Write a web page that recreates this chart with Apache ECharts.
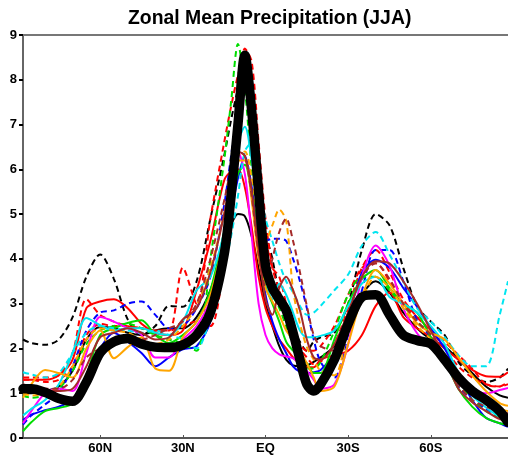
<!DOCTYPE html>
<html>
<head>
<meta charset="utf-8">
<script src="https://cdn.jsdelivr.net/npm/echarts@6/dist/echarts.min.js"></script>
<style>
  html, body { margin: 0; padding: 0; background: #fff; }
  #chart { width: 508px; height: 463px; }
</style>
</head>
<body>
<div id="chart"></div>
<script>
// latitude in degrees, south positive (88N .. 88S)
const lats = [-88, -85, -80, -75, -70, -65, -60, -55, -50, -45, -40, -35, -30, -25, -20, -15,
  -12.5, -10, -7.5, -5, -2.5, 0, 2.5, 5, 7.5, 10, 12.5, 15, 17.5,
  20, 25, 30, 35, 40, 45, 50, 55, 60, 65, 70, 75, 80, 85, 88];

const tickLats = [-60, -30, 0, 30, 60];
const tickNames = ['60N', '30N', 'EQ', '30S', '60S'];

// observations (thick black)
const obs = [1.1, 1.1, 1.02, 0.88, 0.82, 1.25, 1.9, 2.15, 2.22, 2.1, 2.03, 2.02, 2.08, 2.3, 2.8, 4.1,
  5.4, 7.0, 8.55, 7.3, 5.5, 3.85, 3.35, 3.1, 2.85, 2.35, 1.75, 1.2, 1.05,
  1.2, 1.75, 2.55, 3.15, 3.2, 2.75, 2.3, 2.18, 2.1, 1.75, 1.35, 1.05, 0.85, 0.6, 0.35];

const blackSolid = [1.0, 1.0, 1.05, 1.15, 1.5, 2.2, 2.48, 2.45, 2.35, 2.3, 2.4, 2.45, 2.45, 2.7, 3.3, 4.3,
  4.75, 5.0, 4.95, 4.5, 3.8, 3.0, 2.5, 2.05, 1.75, 1.62, 1.6, 1.62, 1.7,
  1.8, 2.05, 2.55, 3.2, 3.5, 3.25, 2.8, 2.45, 2.2, 2.05, 1.75, 1.45, 1.15, 0.95, 0.9];
const blackDash = [2.2, 2.12, 2.08, 2.2, 2.7, 3.6, 4.1, 3.55, 2.65, 2.3, 2.5, 2.95, 2.93, 3.5, 4.9, 6.3,
  7.1, 7.8, 8.4, 7.6, 5.8, 4.6, 4.0, 3.2, 2.7, 2.45, 2.15, 1.95, 2.15,
  2.25, 2.35, 3.0, 4.2, 5.0, 4.75, 3.8, 2.95, 2.6, 2.3, 1.7, 1.4, 1.25, 1.35, 1.55];
const redSolid = [1.3, 1.3, 1.3, 1.4, 1.75, 2.9, 3.05, 3.1, 2.9, 2.55, 2.35, 2.3, 2.4, 3.3, 4.4, 5.75,
  5.95, 6.0, 5.6, 4.7, 3.6, 2.9, 2.5, 2.2, 2.0, 1.8, 1.65, 1.58, 1.58,
  1.75, 1.85, 1.95, 2.3, 2.95, 3.25, 2.7, 2.45, 2.25, 2.0, 1.75, 1.52, 1.38, 1.37, 1.47];
const redDashA = [1.35, 1.35, 1.35, 1.4, 1.9, 3.1, 2.75, 2.6, 2.5, 2.45, 2.4, 2.4, 3.8, 3.0, 4.9, 6.6,
  7.4, 8.1, 8.6, 7.6, 5.9, 4.5, 3.8, 3.6, 3.0, 2.4, 2.0, 1.8, 1.65,
  1.7, 2.1, 2.9, 3.8, 4.2, 3.7, 3.1, 2.7, 2.4, 2.15, 1.85, 1.55, 1.2, 1.15, 1.25];
const redDashB = [1.3, 1.3, 1.25, 1.3, 1.6, 2.3, 2.55, 2.5, 2.5, 2.45, 2.4, 2.4, 2.5, 2.6, 2.5, 4.0,
  5.8, 7.4, 8.7, 8.4, 6.6, 4.9, 3.8, 3.3, 2.8, 2.4, 2.1, 1.95, 1.95,
  2.05, 2.5, 3.2, 3.8, 3.9, 3.5, 3.0, 2.7, 2.4, 2.0, 1.6, 1.35, 1.2, 1.15, 1.2];
const blueSolid = [0.4, 0.52, 0.62, 0.7, 0.85, 1.4, 2.0, 2.35, 2.15, 1.9, 1.6, 1.8, 1.98, 2.05, 2.6, 4.2,
  5.0, 5.8, 6.3, 5.6, 4.3, 3.2, 2.6, 2.2, 1.9, 1.6, 1.48, 1.45, 1.47,
  1.52, 1.9, 2.7, 3.7, 3.98, 3.8, 3.35, 2.93, 2.45, 2.0, 1.4, 0.85, 0.45, 0.33, 0.25];
const blueDash = [0.3, 0.5, 0.75, 1.0, 1.6, 2.4, 2.8, 2.85, 3.0, 3.05, 2.75, 2.45, 2.5, 2.9, 3.6, 5.2,
  6.3, 7.4, 8.5, 8.0, 6.0, 4.4, 4.45, 4.45, 4.4, 4.0, 3.5, 2.9, 2.2,
  1.7, 1.35, 2.3, 3.3, 4.2, 4.2, 3.5, 2.63, 2.25, 1.7, 1.15, 0.85, 0.65, 0.5, 0.45];
const greenSolid = [0.15, 0.35, 0.6, 0.67, 0.78, 1.4, 2.3, 2.45, 2.57, 2.63, 2.3, 2.12, 2.3, 2.6, 3.3, 4.6,
  5.3, 5.9, 6.1, 5.4, 4.2, 3.4, 3.0, 2.6, 2.15, 1.95, 1.8, 1.67, 1.45,
  1.45, 2.2, 3.0, 3.55, 3.75, 3.35, 3.0, 2.8, 2.25, 1.75, 1.1, 0.7, 0.45, 0.33, 0.3];
const greenDash = [0.95, 0.9, 0.95, 1.1, 1.5, 2.1, 2.4, 2.5, 2.55, 2.45, 2.3, 2.2, 2.1, 1.95, 4.0, 6.2,
  7.5, 8.8, 7.8, 6.0, 4.6, 3.6, 3.2, 2.9, 2.5, 2.1, 1.8, 1.55, 1.55,
  1.7, 2.4, 3.2, 3.6, 3.6, 3.3, 2.95, 2.6, 2.3, 1.8, 1.3, 0.85, 0.6, 0.45, 0.4];
const magenta = [0.33, 0.6, 1.0, 1.1, 1.05, 1.9, 2.7, 2.6, 2.45, 2.3, 1.8, 1.8, 2.2, 2.5, 3.1, 4.4,
  5.6, 6.4, 5.9, 4.5, 3.0, 2.3, 2.0, 1.87, 1.82, 1.78, 1.67, 1.5, 1.3,
  1.1, 1.2, 2.1, 3.6, 4.3, 3.85, 2.9, 2.34, 2.05, 1.75, 1.35, 1.1, 1.0, 1.07, 1.12];
const cyanSolid = [0.5, 0.65, 0.85, 1.2, 1.9, 2.68, 2.52, 2.4, 2.45, 2.45, 2.35, 2.3, 2.6, 3.3, 3.6, 4.6,
  5.6, 6.6, 6.95, 6.2, 5.0, 3.6, 3.1, 3.45, 3.2, 2.8, 2.4, 2.25, 2.25,
  2.28, 2.4, 2.95, 3.45, 3.6, 3.15, 3.0, 2.8, 2.5, 2.1, 1.45, 0.95, 0.68, 0.47, 0.4];
const cyanDash = [1.47, 1.42, 1.35, 1.45, 1.9, 2.35, 2.5, 2.45, 2.4, 2.35, 2.4, 2.3, 2.2, 2.0, 2.7, 3.8,
  4.5, 5.4, 6.4, 6.6, 5.7, 4.9, 4.4, 3.9, 3.5, 3.25, 2.95, 2.75, 2.8,
  2.95, 3.3, 3.65, 4.3, 4.6, 4.1, 3.5, 2.9, 2.6, 2.25, 1.85, 1.6, 1.6, 2.75, 3.5];
const orangeSolid = [0.9, 1.2, 1.52, 1.45, 1.35, 2.0, 2.4, 1.78, 2.03, 2.25, 1.55, 1.5, 2.25, 2.6, 3.2, 4.5,
  5.5, 6.2, 6.2, 5.3, 4.0, 3.35, 3.05, 2.75, 2.4, 2.2, 1.95, 1.67, 1.35,
  1.05, 1.15, 2.1, 3.15, 3.75, 3.45, 3.0, 2.56, 2.35, 2.2, 1.8, 1.4, 1.05, 0.78, 0.72];
const orangeDash = [1.0, 0.95, 1.0, 1.15, 1.6, 2.2, 2.45, 2.4, 2.35, 2.2, 2.1, 2.2, 2.5, 2.95, 3.8, 5.0,
  5.8, 6.3, 6.4, 5.8, 4.9, 4.4, 4.75, 5.1, 4.85, 3.3, 2.56, 2.03, 1.75,
  1.5, 1.4, 2.4, 3.1, 3.6, 3.35, 2.9, 2.5, 2.2, 1.75, 1.3, 1.0, 0.8, 0.65, 0.6];
const brownSolid = [1.05, 1.05, 1.05, 1.05, 1.1, 1.6, 2.25, 2.35, 2.45, 2.35, 2.2, 2.25, 2.65, 2.9, 3.7, 5.0,
  5.8, 6.4, 6.3, 5.5, 4.2, 3.1, 2.75, 3.35, 3.6, 3.3, 2.85, 2.2, 1.8,
  1.75, 2.1, 2.8, 3.6, 3.95, 3.9, 3.5, 3.0, 2.4, 1.8, 1.1, 0.8, 0.6, 0.42, 0.4];
const brownDash = [1.2, 1.15, 1.1, 1.1, 1.3, 1.8, 2.0, 2.15, 2.25, 2.2, 2.3, 2.45, 2.6, 3.0, 4.0, 5.3,
  6.0, 6.4, 6.3, 5.4, 4.1, 3.4, 4.0, 4.6, 4.9, 4.4, 3.7, 2.95, 2.3,
  2.05, 1.95, 2.8, 3.6, 3.9, 3.55, 3.0, 2.6, 2.3, 1.8, 1.2, 0.85, 0.7, 0.6, 0.55];

const models = [
  { vals: blackSolid, color: '#000000', dash: false },
  { vals: blackDash, color: '#000000', dash: true },
  { vals: redSolid, color: '#ff0000', dash: false },
  { vals: redDashA, color: '#ff0000', dash: true },
  { vals: redDashB, color: '#ff0000', dash: true },
  { vals: blueSolid, color: '#0000ff', dash: false },
  { vals: blueDash, color: '#0000ff', dash: true },
  { vals: greenSolid, color: '#00dd00', dash: false },
  { vals: greenDash, color: '#00dd00', dash: true },
  { vals: magenta, color: '#ff00ff', dash: false },
  { vals: cyanSolid, color: '#00e5f0', dash: false },
  { vals: cyanDash, color: '#00e5f0', dash: true },
  { vals: orangeSolid, color: '#ffa500', dash: false },
  { vals: orangeDash, color: '#ffa500', dash: true },
  { vals: brownSolid, color: '#a52a2a', dash: false },
  { vals: brownDash, color: '#a52a2a', dash: true }
];

const pairs = vals => lats.map((x, i) => [x, vals[i]]);

const series = models.map(m => ({
  type: 'line',
  data: pairs(m.vals),
  smooth: 0.3,
  symbol: 'none',
  lineStyle: { color: m.color, width: 2, type: m.dash ? [6, 4] : 'solid' }
}));
series.push({
  type: 'line',
  data: pairs(obs),
  smooth: 0.3,
  symbol: 'none',
  lineStyle: { color: '#000000', width: 9.5, cap: 'round', join: 'round' }
});

const chart = echarts.init(document.getElementById('chart'));
chart.setOption({
  animation: false,
  title: {
    text: 'Zonal Mean Precipitation (JJA)',
    left: 123,
    top: 4,
    textStyle: { fontFamily: 'Liberation Sans', fontWeight: 'bold', fontSize: 19.4, color: '#000' }
  },
  grid: { left: 23, right: 0, top: 35, bottom: 25 },
  xAxis: [{
    type: 'value',
    min: -88,
    max: 88,
    splitLine: { show: false },
    axisLine: { onZero: false, lineStyle: { color: '#555', width: 2 } },
    axisTick: { show: true, inside: true, length: 3, customValues: tickLats, lineStyle: { color: '#555' } },
    axisLabel: {
      customValues: tickLats,
      margin: 4,
      fontFamily: 'Liberation Sans', fontWeight: 'bold', fontSize: 13, color: '#000',
      formatter: v => tickNames[tickLats.indexOf(v)]
    }
  }, {
    type: 'value',
    position: 'top',
    min: -88,
    max: 88,
    splitLine: { show: false },
    axisLine: { onZero: false, lineStyle: { color: '#777', width: 2 } },
    axisTick: { show: false },
    axisLabel: { show: false }
  }],
  yAxis: {
    type: 'value',
    min: 0,
    max: 9,
    interval: 1,
    splitLine: { show: false },
    axisLine: { show: true, onZero: false, lineStyle: { color: '#666', width: 2 } },
    axisTick: { show: true, length: 4, lineStyle: { color: '#000', width: 2 } },
    axisLabel: { margin: 6, fontFamily: 'Liberation Sans', fontWeight: 'bold', fontSize: 13, color: '#000' }
  },
  series: series
});
</script>
</body>
</html>
